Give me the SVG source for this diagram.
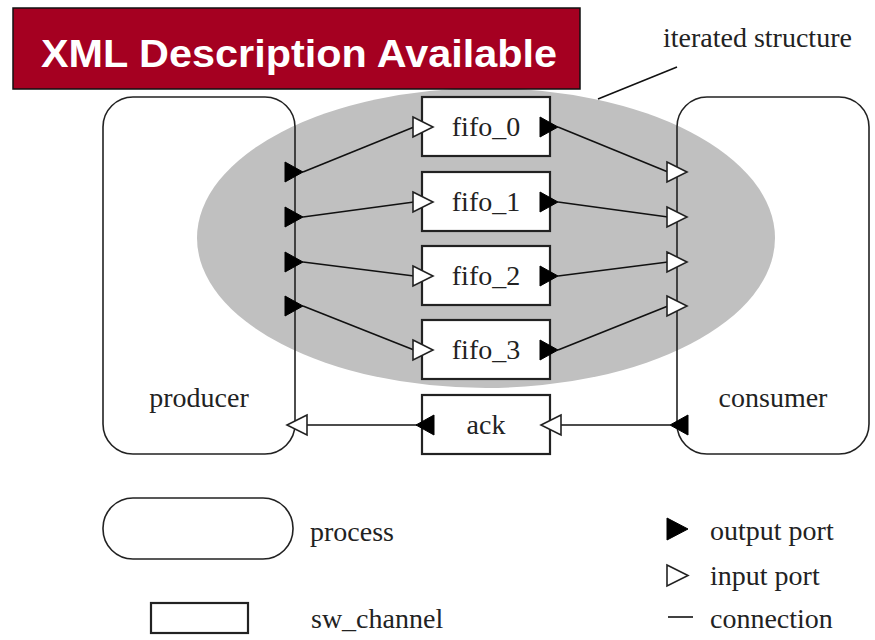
<svg xmlns="http://www.w3.org/2000/svg" width="875" height="640" viewBox="0 0 875 640">
<defs>
<style>
.proc{fill:none;stroke:#222;stroke-width:1.6}
.chan{fill:#fff;stroke:#222;stroke-width:2.2}
.out{fill:#000;stroke:#000;stroke-width:1}
.in{fill:#fff;stroke:#222;stroke-width:1.6;stroke-linejoin:miter}
.conn{stroke:#111;stroke-width:1.6;fill:none}
.t{font-family:"Liberation Serif","Times New Roman",serif;font-size:28px;fill:#222}
.ban{font-family:"Liberation Sans",Arial,sans-serif;font-weight:bold;font-size:38px;fill:#fff}
</style>
<polygon id="op" points="0,-10 18,0 0,10" class="out"/>
<polygon id="ip" points="0,-10 20,0 0,10" class="in"/>
<polygon id="opl" points="18,-10 0,0 18,10" class="out"/>
<polygon id="ipl" points="20,-10 0,0 20,10" class="in"/>
</defs>
<rect width="875" height="640" fill="#fff"/>
<g id="iterated">
<ellipse cx="486" cy="238" rx="289" ry="150" fill="#c0c0c0"/>
<line x1="598" y1="99" x2="677" y2="67" class="conn"/>
<text x="663" y="47" class="t">iterated structure</text>
</g>
<g id="producer">
<rect x="103" y="97" width="192" height="357" rx="30" class="proc"/>
<text x="199" y="407" class="t" text-anchor="middle">producer</text>
</g>
<g id="consumer">
<rect x="677" y="97" width="192" height="357" rx="30" class="proc"/>
<text x="773" y="407" class="t" text-anchor="middle">consumer</text>
</g>
<g id="fifo_0">
<rect x="422" y="97" width="128" height="59" class="chan"/>
<text x="486" y="136" class="t" text-anchor="middle">fifo_0</text>
</g>
<g id="fifo_1">
<rect x="422" y="172" width="128" height="59" class="chan"/>
<text x="486" y="211" class="t" text-anchor="middle">fifo_1</text>
</g>
<g id="fifo_2">
<rect x="422" y="246" width="128" height="59" class="chan"/>
<text x="486" y="285" class="t" text-anchor="middle">fifo_2</text>
</g>
<g id="fifo_3">
<rect x="422" y="320" width="128" height="59" class="chan"/>
<text x="486" y="359" class="t" text-anchor="middle">fifo_3</text>
</g>
<g id="ack">
<rect x="422" y="395" width="128" height="59" class="chan"/>
<text x="486" y="434" class="t" text-anchor="middle">ack</text>
</g>
<g id="connectors">
<line x1="303" y1="172" x2="414" y2="127" class="conn"/>
<line x1="303" y1="217" x2="414" y2="202" class="conn"/>
<line x1="303" y1="262" x2="414" y2="276" class="conn"/>
<line x1="303" y1="306" x2="414" y2="350" class="conn"/>
<line x1="558" y1="127" x2="668" y2="172" class="conn"/>
<line x1="558" y1="202" x2="668" y2="217" class="conn"/>
<line x1="558" y1="276" x2="668" y2="262" class="conn"/>
<line x1="558" y1="350" x2="668" y2="306" class="conn"/>
<line x1="306" y1="425" x2="417" y2="425" class="conn"/>
<line x1="560" y1="425" x2="670" y2="425" class="conn"/>
</g>
<g id="ports">
<use href="#op" x="285" y="172"/>
<use href="#op" x="285" y="217"/>
<use href="#op" x="285" y="262"/>
<use href="#op" x="285" y="306"/>
<use href="#ip" x="413" y="127"/>
<use href="#ip" x="413" y="202"/>
<use href="#ip" x="413" y="276"/>
<use href="#ip" x="413" y="350"/>
<use href="#op" x="540" y="127"/>
<use href="#op" x="540" y="202"/>
<use href="#op" x="540" y="276"/>
<use href="#op" x="540" y="350"/>
<use href="#ip" x="667" y="172"/>
<use href="#ip" x="667" y="217"/>
<use href="#ip" x="667" y="262"/>
<use href="#ip" x="667" y="306"/>
<use href="#ipl" x="287" y="425"/>
<use href="#opl" x="416" y="425"/>
<use href="#ipl" x="541" y="425"/>
<use href="#opl" x="670" y="425"/>
</g>
<g id="legend">
<rect x="103" y="498" width="190" height="61" rx="30" class="proc"/>
<text x="310" y="541" class="t">process</text>
<rect x="151" y="603" width="97" height="30" class="chan"/>
<text x="311" y="628" class="t">sw_channel</text>
<polygon points="667,518 688,529 667,540" class="out"/>
<text x="710" y="540" class="t">output port</text>
<polygon points="667,565 688,575.5 667,586" class="in"/>
<text x="710" y="585" class="t">input port</text>
<line x1="668" y1="617" x2="693" y2="617" class="conn" stroke-width="2"/>
<text x="710" y="628" class="t">connection</text>
</g>
<g id="banner">
<rect x="13" y="8" width="567" height="81" fill="#a50021" stroke="#111" stroke-width="1.5"/>
<text x="41" y="67" class="ban" textLength="516" lengthAdjust="spacingAndGlyphs">XML Description Available</text>
</g>
</svg>
